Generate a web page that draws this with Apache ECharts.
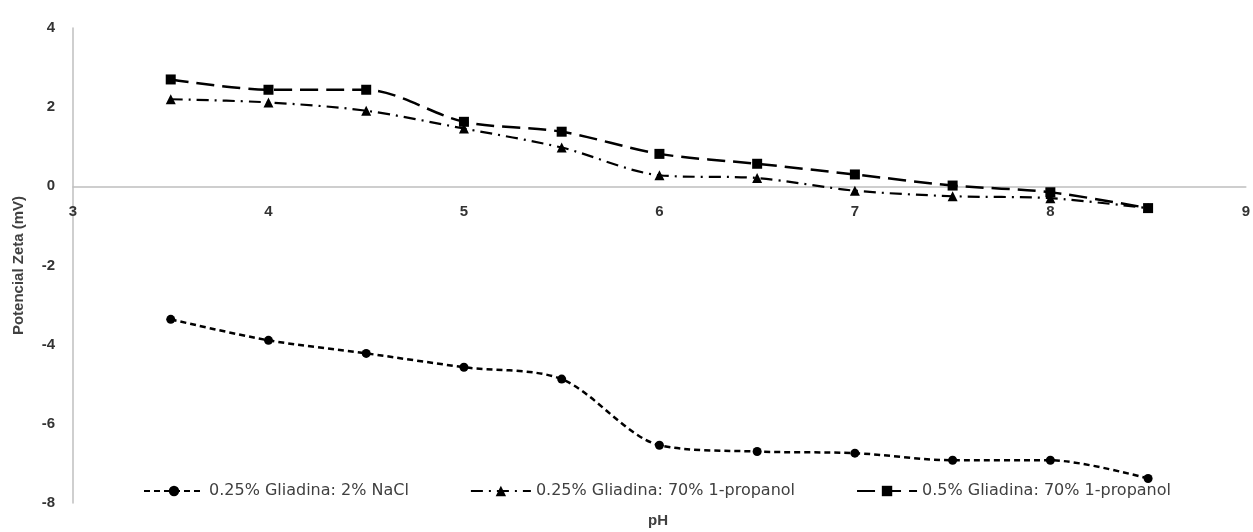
<!DOCTYPE html>
<html>
<head>
<meta charset="utf-8">
<script src="https://cdn.jsdelivr.net/npm/echarts@6/dist/echarts.min.js"></script>
<style>
  html, body { margin: 0; padding: 0; background: #fff; }
  #chart { width: 1253px; height: 532px; }
</style>
</head>
<body>
<div id="chart"></div>
<script>
// pH values shared by all three series
const ph = [3.5, 4.0, 4.5, 5.0, 5.5, 6.0, 6.5, 7.0, 7.5, 8.0, 8.5];

// Zeta potential (mV) per formulation
const naclValues  = [-3.36, -3.89, -4.22, -4.57, -4.87, -6.54, -6.70, -6.74, -6.92, -6.92, -7.38];
const propanol025 = [2.20, 2.12, 1.91, 1.46, 0.98, 0.28, 0.21, -0.11, -0.25, -0.30, -0.55];
const propanol05  = [2.70, 2.44, 2.44, 1.63, 1.38, 0.82, 0.57, 0.30, 0.02, -0.15, -0.55];

const seriesNames = [
  '0.25% Gliadina: 2% NaCl',
  '0.25% Gliadina: 70% 1-propanol',
  '0.5% Gliadina: 70% 1-propanol'
];

const xTicks = { min: 3, max: 9, interval: 1 };
const yTicks = { min: -8, max: 4, interval: 2 };

const pairs = vals => ph.map((x, i) => [x, vals[i]]);

const FONT = '"Liberation Sans", Arial, sans-serif';
const LEGEND_FONT = '"DejaVu Sans", sans-serif';

// plot area
const GRID = { left: 73, right: 7, top: 28, bottom: 29 };
const plotHeight = 532 - GRID.top - GRID.bottom;
// the pH axis crosses the potential axis at 0: shift it up from the bottom edge
const zeroShift = plotHeight * (0 - yTicks.min) / (yTicks.max - yTicks.min);

const chart = echarts.init(document.getElementById('chart'), null, { renderer: 'canvas' });

chart.setOption({
  animation: false,
  backgroundColor: '#ffffff',
  grid: Object.assign({ containLabel: false }, GRID),
  title: {
    text: 'pH',
    left: 648,
    top: 513,
    padding: 0,
    textStyle: { fontFamily: FONT, fontSize: 15, fontWeight: 'bold', color: '#404040' }
  },
  legend: {
    top: 483,
    left: 143,
    padding: 0,
    itemWidth: 60,
    itemHeight: 13,
    itemGap: 61,
    textStyle: { fontFamily: LEGEND_FONT, fontSize: 16, color: '#404040' },
    data: seriesNames
  },
  xAxis: {
    type: 'value',
    position: 'bottom',
    offset: -zeroShift,
    min: xTicks.min, max: xTicks.max, interval: xTicks.interval,
    axisLine: { onZero: false, lineStyle: { color: '#bfbfbf', width: 1.5 } },
    axisTick: { show: false },
    splitLine: { show: false },
    axisLabel: { fontFamily: FONT, fontSize: 15, fontWeight: 'bold', color: '#333', margin: 18 }
  },
  yAxis: {
    type: 'value',
    min: yTicks.min, max: yTicks.max, interval: yTicks.interval,
    name: 'Potencial Zeta (mV)',
    nameLocation: 'middle',
    nameRotate: 90,
    nameGap: 47,
    nameTextStyle: { fontFamily: FONT, fontSize: 15, fontWeight: 'bold', color: '#404040' },
    axisLine: { show: true, lineStyle: { color: '#bfbfbf', width: 1.5 } },
    axisTick: { show: false },
    splitLine: { show: false },
    axisLabel: { fontFamily: FONT, fontSize: 15, fontWeight: 'bold', color: '#333', margin: 18 }
  },
  series: [
    {
      name: seriesNames[0],
      type: 'line',
      data: pairs(naclValues),
      smooth: 0.3,
      symbol: 'circle',
      symbolSize: 9,
      itemStyle: { color: '#000' },
      lineStyle: { color: '#000', width: 2.5, type: [6, 4] }
    },
    {
      name: seriesNames[1],
      type: 'line',
      data: pairs(propanol025),
      smooth: 0.3,
      symbol: 'triangle',
      symbolSize: 10,
      itemStyle: { color: '#000' },
      lineStyle: { color: '#000', width: 2.2, type: [12, 6, 2, 6] }
    },
    {
      name: seriesNames[2],
      type: 'line',
      data: pairs(propanol05),
      smooth: 0.3,
      symbol: 'rect',
      symbolSize: 10,
      itemStyle: { color: '#000' },
      lineStyle: { color: '#000', width: 2.5, type: [18, 8] }
    }
  ]
});
</script>
</body>
</html>
